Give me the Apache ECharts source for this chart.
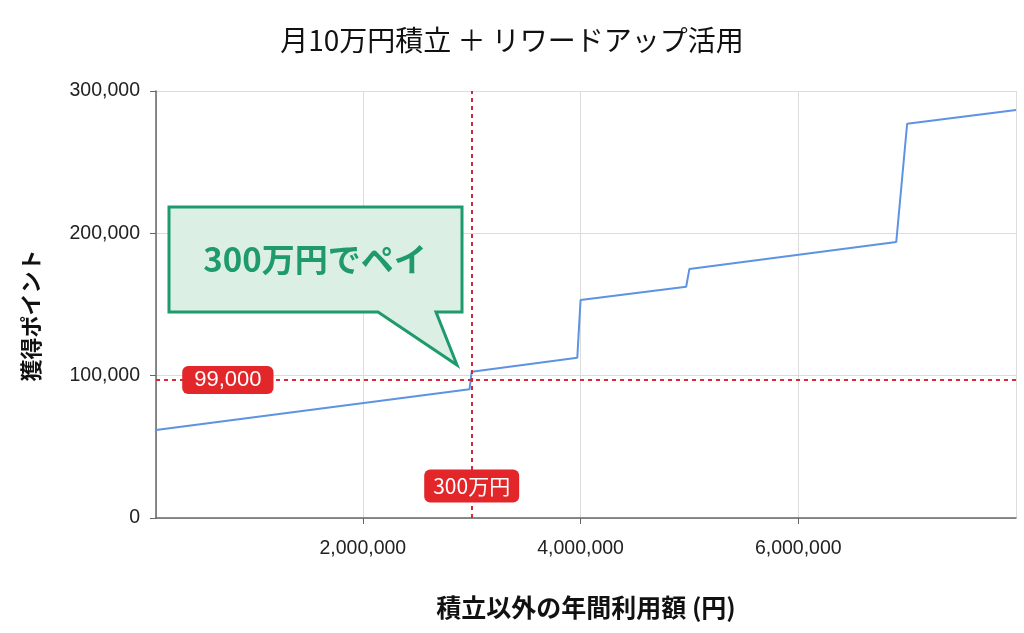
<!DOCTYPE html>
<html>
<head>
<meta charset="utf-8">
<script src="https://cdn.jsdelivr.net/npm/echarts@6/dist/echarts.min.js"></script>
<style>
html,body{margin:0;padding:0;background:#fff;}
#chart{width:1024px;height:633px;}
</style>
</head>
<body>
<div id="chart"></div>
<script>
// Data
var spendX = [100000, 2980000, 3000000, 3970000, 4000000, 4970000, 5000000, 6900000, 7000000, 8000000];
var pointsY = [61800, 90400, 102800, 112600, 153200, 162500, 175000, 193900, 277000, 286700];
var breakEvenSpend = 3000000;
var breakEvenPointsLine = 97000;
var breakEvenPointsLabel = '99,000';
var breakEvenSpendLabel = '300万円';
var calloutText = '300万円でペイ';
var titleText = '月10万円積立 ＋ リワードアップ活用';
var xName = '積立以外の年間利用額 (円)';
var yName = '獲得ポイント';

var seriesData = spendX.map(function (x, i) { return [x, pointsY[i]]; });

var JP = '"Noto Sans CJK JP", "Noto Sans", sans-serif';
var NUM = '"Liberation Sans", Arial, sans-serif';
var RED_LINE = '#d22a3a';
var RED_BG = '#e2262a';

var chart = echarts.init(document.getElementById('chart'));
var fmt = function (v) { return Math.round(v).toLocaleString('en-US'); };

chart.setOption({
  backgroundColor: '#ffffff',
  animation: false,
  title: {
    text: titleText,
    left: 'center',
    top: 26,
    padding: 0,
    textStyle: { fontFamily: JP, fontSize: 28, fontWeight: 'normal', color: '#111' }
  },
  grid: { left: 156, right: 8, top: 91, bottom: 115, containLabel: false },
  xAxis: {
    type: 'value',
    min: 100000,
    max: 8000000,
    splitNumber: 5,
    name: xName,
    nameLocation: 'middle',
    nameGap: 77,
    nameTextStyle: { fontFamily: JP, fontSize: 25, fontWeight: 'bold', color: '#111' },
    axisLine: { show: true, lineStyle: { color: '#666', width: 1.5 } },
    axisTick: { show: true, length: 6, lineStyle: { color: '#666' } },
    axisLabel: {
      showMinLabel: false, showMaxLabel: false,
      margin: 21, fontFamily: NUM, fontSize: 19.5, color: '#222',
      formatter: fmt
    },
    splitLine: { show: true, lineStyle: { color: '#dcdcdc', width: 1 } }
  },
  yAxis: {
    type: 'value',
    min: 0,
    max: 300000,
    interval: 100000,
    name: yName,
    nameLocation: 'middle',
    nameGap: 114,
    nameTextStyle: { fontFamily: JP, fontSize: 22, fontWeight: 'bold', color: '#111', padding: [0, 22, 0, 0] },
    axisLine: { show: true, lineStyle: { color: '#666', width: 1.5 } },
    axisTick: { show: true, length: 6, lineStyle: { color: '#666' } },
    axisLabel: { margin: 16, fontFamily: NUM, fontSize: 19.5, color: '#222', formatter: fmt },
    splitLine: { show: true, lineStyle: { color: '#dcdcdc', width: 1 } }
  },
  series: [{
    type: 'line',
    data: seriesData,
    symbol: 'none',
    lineStyle: { color: '#5e93e3', width: 2 },
    z: 3,
    markLine: {
      silent: true,
      symbol: ['none', 'none'],
      lineStyle: { color: RED_LINE, width: 2, type: [4, 4] },
      label: { show: false },
      z: 4,
      data: [
        { yAxis: breakEvenPointsLine },
        { xAxis: breakEvenSpend }
      ]
    },
    markPoint: {
      silent: true,
      symbol: 'rect',
      symbolSize: 1,
      itemStyle: { color: 'rgba(0,0,0,0)' },
      z: 6,
      label: {
        show: true,
        position: 'inside',
        color: '#fff',
        fontFamily: JP,
        fontSize: 21,
        backgroundColor: RED_BG,
        borderRadius: 6,
        padding: [6, 9, 6, 9]
      },
      data: [
        { coord: [760000, breakEvenPointsLine], label: { formatter: breakEvenPointsLabel, fontFamily: NUM, fontSize: 22, padding: [3, 12, 3, 12] } },
        { coord: [breakEvenSpend, 22500], label: { formatter: breakEvenSpendLabel } }
      ]
    }
  }],
  graphic: [
    {
      type: 'polygon',
      z: 10,
      shape: { points: [[169, 207], [462, 207], [462, 312], [436, 312], [457, 365], [378, 312], [169, 312]] },
      style: { fill: '#dcefe5', stroke: '#1e9a6c', lineWidth: 3, lineJoin: 'miter' }
    },
    {
      type: 'text',
      z: 11,
      x: 315, y: 259,
      style: {
        text: calloutText,
        fill: '#1f9a6a',
        font: 'bold 33px ' + JP,
        align: 'center',
        verticalAlign: 'middle'
      }
    }
  ]
});
</script>
</body>
</html>
